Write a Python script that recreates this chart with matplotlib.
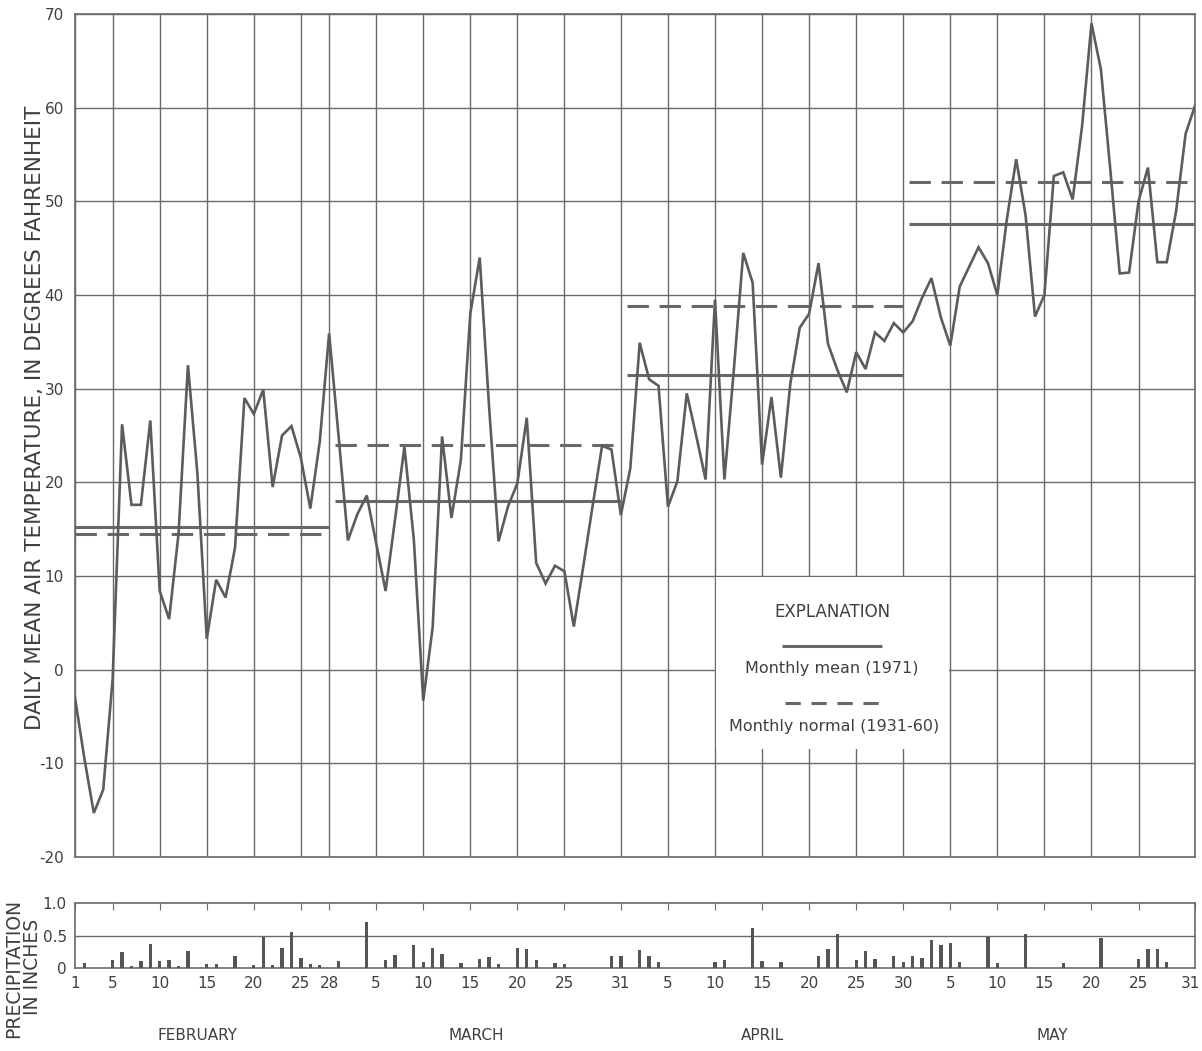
import matplotlib
matplotlib.use('Agg')
import matplotlib.pyplot as plt
import matplotlib.transforms as mtransforms
from matplotlib.patches import Rectangle
from matplotlib.lines import Line2D
import numpy as np

# ---------------- data ----------------
# daily mean air temperature (deg F), Feb 1 .. May 31, 1971
temp_feb = [-3.0, -9.5, -15.3, -12.8, -1.0, 26.2, 17.6, 17.6, 26.6, 8.4,
            5.4, 14.5, 32.5, 21.0, 3.3, 9.6, 7.7, 13.0, 29.0, 27.3,
            29.9, 19.5, 25.0, 26.0, 22.6, 17.2, 24.3, 35.9]
temp_mar = [25.0, 13.8, 16.6, 18.6, 13.5, 8.4, 16.0, 23.8, 13.9, -3.3,
            4.5, 24.9, 16.2, 22.4, 38.0, 44.0, 28.0, 13.7, 17.4, 19.9,
            26.9, 11.4, 9.2, 11.1, 10.5, 4.6, 11.0, 17.5, 23.9, 23.5, 16.5]
temp_apr = [21.5, 34.9, 31.0, 30.3, 17.4, 20.1, 29.5, 25.0, 20.3, 39.5,
            20.3, 32.0, 44.5, 41.3, 21.9, 29.1, 20.5, 30.5, 36.5, 38.0,
            43.4, 34.8, 32.0, 29.6, 33.9, 32.1, 36.0, 35.1, 37.0, 36.0]
temp_may = [37.2, 39.7, 41.8, 37.6, 34.6, 40.9, 43.0, 45.1, 43.4, 40.0,
            48.0, 54.5, 48.5, 37.7, 40.0, 52.7, 53.1, 50.2, 58.0, 69.0,
            64.1, 53.4, 42.3, 42.4, 50.0, 53.6, 43.5, 43.5, 49.0, 57.2, 60.2]
temperature = temp_feb + temp_mar + temp_apr + temp_may
days = list(range(1, len(temperature) + 1))

month_names = ['FEBRUARY', 'MARCH', 'APRIL', 'MAY']
month_first_day = [1, 29, 60, 90]
month_last_day = [28, 59, 89, 120]
monthly_mean_1971 = [15.2, 18.0, 31.5, 47.6]
monthly_normal_1931_60 = [14.5, 24.0, 38.8, 52.1]

# daily precipitation (inches), day number counted from Feb 1
precip_days = [2, 5, 6, 7, 8, 9, 10, 11, 12, 13, 15, 16, 18, 20, 21, 22, 23, 24, 25, 26, 27,
               29, 32, 34, 35, 37, 38, 39, 40, 42, 44, 45, 46, 48, 49, 50, 52, 53, 58, 59,
               61, 62, 63, 69, 70, 73, 74, 76, 80, 81, 82, 84, 85, 86, 88, 89,
               90, 91, 92, 93, 94, 95, 98, 99, 102, 106, 110, 114, 115, 116, 117]
precip_inches = [0.08, 0.12, 0.24, 0.035, 0.11, 0.37, 0.11, 0.13, 0.035, 0.26, 0.06, 0.06, 0.19,
                 0.04, 0.48, 0.05, 0.31, 0.56, 0.16, 0.06, 0.05,
                 0.11, 0.71, 0.12, 0.20, 0.36, 0.085, 0.31, 0.22, 0.07, 0.14, 0.165, 0.067,
                 0.305, 0.295, 0.12, 0.077, 0.06, 0.18, 0.18,
                 0.28, 0.19, 0.09, 0.09, 0.12, 0.61, 0.105, 0.095, 0.19, 0.29, 0.52, 0.12,
                 0.26, 0.135, 0.18, 0.095,
                 0.18, 0.16, 0.43, 0.36, 0.38, 0.095, 0.47, 0.07, 0.52, 0.08, 0.46, 0.145,
                 0.30, 0.30, 0.09]

grid_days = [1, 5, 10, 15, 20, 25, 28, 33, 38, 43, 48, 53, 59, 64, 69, 74, 79, 84, 89,
             94, 99, 104, 109, 114, 120]
grid_day_labels = ['1', '5', '10', '15', '20', '25', '28', '5', '10', '15', '20', '25', '31',
                   '5', '10', '15', '20', '25', '30', '5', '10', '15', '20', '25', '31']
temp_ticks = [-20, -10, 0, 10, 20, 30, 40, 50, 60, 70]
precip_ticks = [0, 0.5, 1.0]
precip_tick_labels = ['0', '0.5', '1.0']

# ---------------- figure ----------------
W, H = 1202, 1051
fig = plt.figure(figsize=(W / 100, H / 100), dpi=100)
fig.patch.set_facecolor('white')

GRID = '#6a6a6a'
LINE = '#5c5c5c'
TXT = '#3f3f3f'
plt.rcParams['font.family'] = ['DejaVu Sans']

ax = fig.add_axes([75 / W, 1 - 857 / H, 1120 / W, 843 / H])
ax.set_xlim(1, 120)
ax.set_ylim(-20, 70)
for x in grid_days:
    ax.axvline(x, color=GRID, lw=1.0, zorder=1)
for y in temp_ticks:
    ax.axhline(y, color=GRID, lw=1.0, zorder=1)
for s in ax.spines.values():
    s.set_color(GRID)
    s.set_linewidth(1.2)
ax.set_xticks([])
ax.set_yticks(temp_ticks)
ax.set_yticklabels([str(t) for t in temp_ticks])
ax.tick_params(axis='y', length=0, pad=8, labelsize=11, labelcolor=TXT)

# explanation box (white panel over the grid)
box = Rectangle((69.15, -8.5), 94 - 69.3, 18.4, facecolor='white', edgecolor='none', zorder=2)
ax.add_patch(box)

# daily temperature line
ax.plot(days, temperature, color=LINE, lw=1.9, zorder=4, solid_joinstyle='miter')

# monthly mean and normal
for f, l, m, n in zip(month_first_day, month_last_day, monthly_mean_1971, monthly_normal_1931_60):
    x0 = max(f - 0.4, 1)
    ax.plot([x0, l], [m, m], color='#686868', lw=2.2, zorder=3, solid_capstyle='butt')
    ax.plot([x0, l], [n, n], color='#686868', lw=2.2, zorder=3, dashes=(7, 3.5),
            dash_capstyle='butt')

# explanation texts
fig.text(832 / W, 1 - 612 / H, 'EXPLANATION', ha='center', va='center', fontsize=12, color=TXT)
fig.text(832 / W, 1 - 669 / H, 'Monthly mean (1971)', ha='center', va='center',
         fontsize=11.5, color=TXT)
fig.text(834 / W, 1 - 727 / H, 'Monthly normal (1931-60)', ha='center', va='center',
         fontsize=11.5, color=TXT)
fig.add_artist(Line2D([782 / W, 882 / W], [1 - 646 / H, 1 - 646 / H], color='#686868', lw=2.2,
                      solid_capstyle='butt'))
fig.add_artist(Line2D([785 / W, 888 / W], [1 - 703 / H, 1 - 703 / H], color='#686868', lw=2.2,
                      dashes=(5, 3.5), dash_capstyle='butt'))

fig.text(35 / W, 1 - 418 / H, 'DAILY MEAN AIR TEMPERATURE, IN DEGREES FAHRENHEIT',
         rotation=90, ha='center', va='center', fontsize=15.5, color=TXT)

# ---------------- precipitation panel ----------------
ax2 = fig.add_axes([75 / W, 1 - 968 / H, 1120 / W, 65 / H])
ax2.set_xlim(1, 120)
ax2.set_ylim(0, 1.0)
ax2.axhline(0.5, color=GRID, lw=1.0, zorder=1)
ax2.bar(precip_days, precip_inches, width=0.35, color='#555555', zorder=3)
for s in ax2.spines.values():
    s.set_color(GRID)
    s.set_linewidth(1.2)
ax2.set_yticks(precip_ticks)
ax2.set_yticklabels(precip_tick_labels)
ax2.tick_params(axis='y', length=0, pad=6, labelsize=11, labelcolor=TXT)
ax2.set_xticks(grid_days)
ax2.set_xticklabels(grid_day_labels)
ax2.tick_params(axis='x', which='both', bottom=False, top=True, direction='in', length=5,
                color=GRID, labelsize=11, labelcolor=TXT, pad=6)
# keep the last day label inside the picture
last_lbl = ax2.get_xticklabels()[-1]
last_lbl.set_horizontalalignment('right')
last_lbl.set_transform(last_lbl.get_transform() +
                       mtransforms.ScaledTranslation(5 / 100, 0, fig.dpi_scale_trans))

trans = mtransforms.blended_transform_factory(ax2.transData, fig.transFigure)
month_label_x = [14, 43.6, 74, 104.8]
for name, mx in zip(month_names, month_label_x):
    ax2.text(mx, 1 - 1035 / H, name, transform=trans, ha='center', va='center',
             fontsize=11, color=TXT)

fig.text(14 / W, 1 - 968 / H, 'PRECIPITATION', rotation=90, ha='center', va='center',
         fontsize=13.5, color=TXT)
fig.text(32 / W, 1 - 967 / H, 'IN INCHES', rotation=90, ha='center', va='center',
         fontsize=13.5, color=TXT)

fig.savefig('out.png', dpi=100, facecolor='white')
